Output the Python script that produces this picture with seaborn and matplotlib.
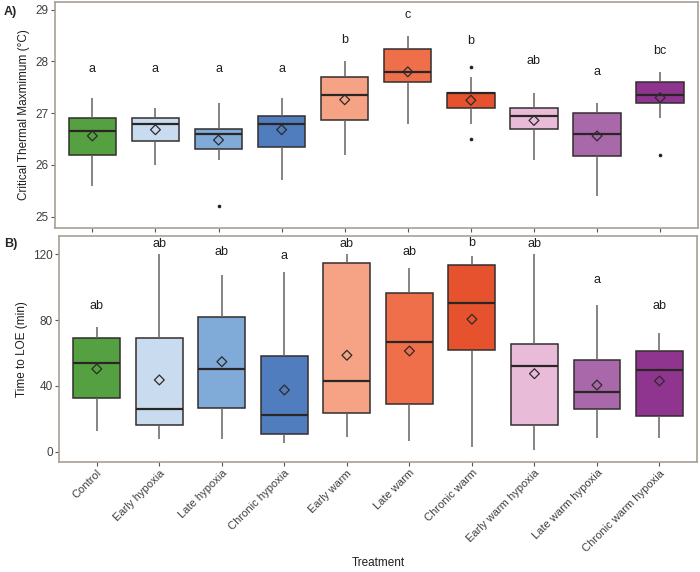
import numpy as np
import pandas as pd
import matplotlib
matplotlib.use("Agg")
import matplotlib.pyplot as plt
import seaborn as sns

# ---------------- data ----------------
treatments = ["Control", "Early hypoxia", "Late hypoxia", "Chronic hypoxia",
              "Early warm", "Late warm", "Chronic warm", "Early warm hypoxia",
              "Late warm hypoxia", "Chronic warm hypoxia"]
colors = ["#55a041", "#c9dcef", "#80aad8", "#4f7dbd", "#f5a384",
          "#ef6f4a", "#e5522d", "#e8bcd9", "#a868aa", "#8f3590"]

# Panel A: Critical thermal maximum (°C)
ctmax_whislo = [25.6, 26.0, 26.1, 25.7, 26.2, 26.8, 26.8, 26.1, 25.4, 26.9]
ctmax_q1     = [26.2, 26.47, 26.3, 26.35, 26.86, 27.6, 27.1, 26.7, 26.17, 27.2]
ctmax_med    = [26.65, 26.8, 26.6, 26.8, 27.35, 27.8, 27.4, 26.95, 26.6, 27.35]
ctmax_q3     = [26.9, 26.9, 26.7, 26.95, 27.7, 28.25, 27.4, 27.1, 27.01, 27.6]
ctmax_whishi = [27.3, 27.1, 27.2, 27.3, 28.0, 28.5, 27.7, 27.4, 27.2, 27.8]
ctmax_mean   = [26.56, 26.68, 26.48, 26.68, 27.26, 27.8, 27.25, 26.86, 26.56, 27.3]
ctmax_out_trt = ["Late hypoxia", "Chronic warm", "Chronic warm", "Chronic warm hypoxia"]
ctmax_out_val = [25.2, 27.9, 26.5, 26.2]
ctmax_letters = ["a", "a", "a", "a", "b", "c", "b", "ab", "a", "bc"]
ctmax_letter_y = [27.86, 27.86, 27.86, 27.86, 28.42, 28.89, 28.4, 28.01, 27.8, 28.21]

# Panel B: Time to LOE (min)
loe_whislo = [12.6, 7.5, 7.5, 5.1, 9.1, 6.7, 2.7, 1.0, 8.1, 8.1]
loe_q1     = [32.6, 16.0, 26.7, 10.6, 23.7, 28.8, 61.8, 16.0, 26.0, 21.5]
loe_med    = [53.7, 26.2, 50.3, 22.5, 42.8, 66.9, 90.6, 52.3, 36.5, 49.5]
loe_q3     = [69.3, 69.3, 81.9, 58.2, 114.9, 96.5, 113.5, 65.7, 55.9, 61.2]
loe_whishi = [75.6, 120.0, 107.2, 109.4, 120.0, 111.5, 119.0, 120.0, 89.4, 72.3]
loe_mean   = [50.3, 43.6, 54.7, 37.5, 58.6, 61.2, 80.5, 47.4, 40.5, 43.0]
loe_letters = ["ab", "ab", "ab", "a", "ab", "ab", "b", "ab", "a", "ab"]
loe_letter_y = [88.6, 126.3, 121.6, 119.2, 126.3, 121.6, 127.0, 126.3, 104.4, 88.6]


def five_number_frame(lo, q1, med, q3, hi):
    rows = []
    for t, a, b, c, d, e in zip(treatments, lo, q1, med, q3, hi):
        for v in (a, b, c, d, e):
            rows.append((t, v))
    return pd.DataFrame(rows, columns=["Treatment", "value"])


sns.set_theme(style="white")
plt.rcParams["font.family"] = ["Liberation Sans", "DejaVu Sans"]

fig = plt.figure(figsize=(7.0, 5.72), dpi=100)
W, H = 700, 572
axA = fig.add_axes([54.5 / W, (H - 228) / H, (698 - 54.5) / W, 226 / H])
axB = fig.add_axes([59.3 / W, (H - 461.7) / H, (697 - 59.3) / W, 226 / H])

frame_col = "#a89f97"
text_col = "#3f3f3f"
edge_col = "#332e2e"


def draw_panel(ax, lo, q1, med, q3, hi, means, out_t, out_v, letters, letter_y):
    df = five_number_frame(lo, q1, med, q3, hi)
    sns.boxplot(data=df, x="Treatment", y="value", hue="Treatment",
                order=treatments, hue_order=treatments, palette=colors,
                legend=False, width=0.75, whis=(0, 100), showfliers=False,
                showcaps=False, saturation=1, linewidth=1.1,
                linecolor=edge_col,
                medianprops=dict(color="#2b2626", linewidth=1.6),
                whiskerprops=dict(color="#6a625d", linewidth=1.1),
                ax=ax)
    n_before = len(ax.collections)
    mdf = pd.DataFrame({"Treatment": treatments, "mean": means})
    sns.stripplot(data=mdf, x="Treatment", y="mean", order=treatments,
                  jitter=False, marker="D", size=5.0, color="#2e2a2a",
                  edgecolor="#2e2a2a", linewidth=0.9, ax=ax, zorder=5)
    for coll in ax.collections[n_before:]:
        coll.set_facecolor("none")
        coll.set_edgecolor("#2e2a2a")
    if out_t:
        odf = pd.DataFrame({"Treatment": out_t, "value": out_v})
        sns.stripplot(data=odf, x="Treatment", y="value", order=treatments,
                      jitter=False, size=2.6, color="#222222", linewidth=0,
                      ax=ax, zorder=5)
    for i, (lab, y) in enumerate(zip(letters, letter_y)):
        ax.text(i, y, lab, ha="center", va="center", fontsize=9,
                color="#1e1e1e")
    ax.set_xlim(-0.6, 9.6)
    for s in ax.spines.values():
        s.set_color(frame_col)
        s.set_linewidth(1.2)
    ax.tick_params(axis="both", which="both", length=3, width=0.8,
                   color="#555555", labelcolor=text_col, labelsize=8.5,
                   bottom=True, left=True, pad=1.5)


draw_panel(axA, ctmax_whislo, ctmax_q1, ctmax_med, ctmax_q3, ctmax_whishi,
           ctmax_mean, ctmax_out_trt, ctmax_out_val, ctmax_letters, ctmax_letter_y)
axA.set_ylim(24.78, 29.15)
axA.set_yticks([25, 26, 27, 28, 29])
axA.set_xticklabels([])
axA.set_xlabel("")
axA.set_ylabel("Critical Thermal Maxmimum (°C)", fontsize=8.5, color="#1e1e1e",
               labelpad=4)

draw_panel(axB, loe_whislo, loe_q1, loe_med, loe_q3, loe_whishi,
           loe_mean, [], [], loe_letters, loe_letter_y)
axB.set_ylim(-6.1, 131.3)
axB.set_yticks([0, 40, 80, 120])
axB.set_xticks(range(len(treatments)))
axB.set_xticklabels(treatments, rotation=45, ha="right",
                    rotation_mode="anchor", fontsize=8, color=text_col)
axB.set_xlabel("")
axB.set_ylabel("Time to LOE (min)", fontsize=8.5, color="#1e1e1e", labelpad=4)

fig.text(378 / W, 1 - 563 / H, "Treatment", fontsize=8.5, color="#1e1e1e",
         ha="center", va="center")
fig.text(4 / W, 1 - 12 / H, "A)", fontsize=9, fontweight="bold",
         va="center", ha="left")
fig.text(4 / W, 1 - 244 / H, "B)", fontsize=9, fontweight="bold",
         va="center", ha="left")

fig.savefig("out.png", dpi=100, facecolor="white")
